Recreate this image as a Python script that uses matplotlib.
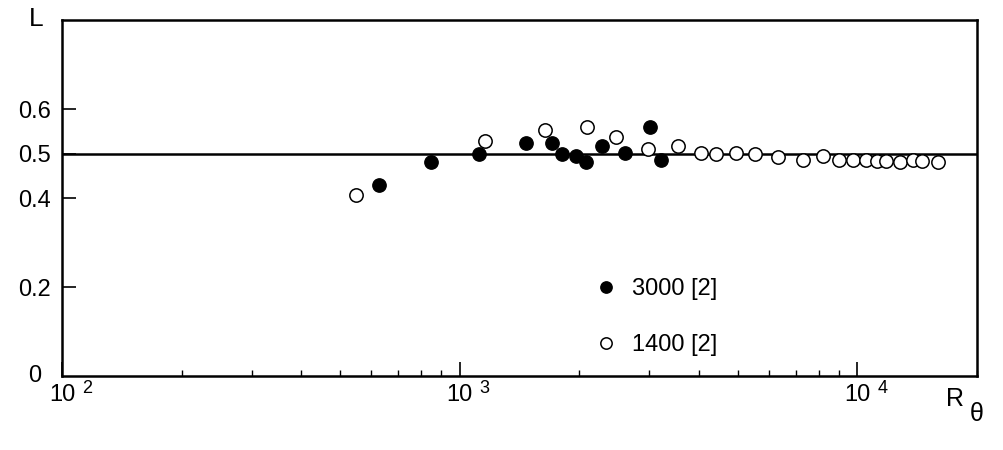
import matplotlib
matplotlib.use('Agg')
import matplotlib.pyplot as plt
import matplotlib.transforms as mtransforms
import numpy as np

plt.rcParams['font.family'] = ['Liberation Sans', 'DejaVu Sans']

# Serie 3000 [2] (circulos rellenos)
re_3000 = [627, 847, 1120, 1469, 1709, 1812, 1964, 2080, 2281, 2607, 3013, 3214]
L_3000 = [0.430, 0.480, 0.498, 0.523, 0.523, 0.498, 0.495, 0.480, 0.516, 0.502, 0.559, 0.486]

# Serie 1400 [2] (circulos vacios)
re_1400 = [550, 1159, 1641, 2094, 2478, 2980, 3540, 4055, 4419, 4962, 5540, 6324,
           7311, 8209, 9010, 9779, 10540, 11220, 11830, 12770, 13840, 14580, 16000]
L_1400 = [0.407, 0.529, 0.552, 0.559, 0.538, 0.509, 0.516, 0.502, 0.498, 0.502, 0.498, 0.493,
          0.486, 0.495, 0.486, 0.486, 0.486, 0.484, 0.484, 0.482, 0.486, 0.484, 0.480]

labels = ['3000 [2]', '1400 [2]']
x_ticks = [1e2, 1e3, 1e4]
x_exps = ['2', '3', '4']
y_ticks = [0.2, 0.4, 0.5, 0.6]
y_ticklabels = ['0.2', '0.4', '0.5', '0.6']
L_ref = 0.5

FS = 17

fig = plt.figure(figsize=(10.04, 4.5), dpi=100)
ax = fig.add_axes([62/1004, 1 - 376/450, 915/1004, 356/450])

ax.axhline(L_ref, color='black', lw=1.8, zorder=1)
ax.plot(re_3000, L_3000, 'o', ms=9.6, mfc='black', mec='black', mew=1.0,
        ls='none', label=labels[0], zorder=3)
ax.plot(re_1400, L_1400, 'o', ms=9.6, mfc='white', mec='black', mew=1.1,
        ls='none', label=labels[1], zorder=2)

ax.set_xscale('log')
ax.set_xlim(1e2, 2e4)
ax.set_ylim(0, 0.8)

for s in ax.spines.values():
    s.set_linewidth(1.8)

ax.set_xticks(x_ticks)
ax.set_xticklabels([])
ax.xaxis.set_minor_locator(matplotlib.ticker.LogLocator(base=10, subs=np.arange(2, 10)))
ax.xaxis.set_minor_formatter(matplotlib.ticker.NullFormatter())
ax.tick_params(axis='x', which='major', direction='in', length=10, width=1.2)
ax.tick_params(axis='x', which='minor', direction='in', length=4, width=1.0)

ax.set_yticks(y_ticks)
ax.set_yticklabels(y_ticklabels, fontsize=FS)
ax.tick_params(axis='y', which='major', direction='in', length=10, width=1.2, pad=8)

# etiquetas del eje x: "10" centrado y exponente separado
trans = mtransforms.blended_transform_factory(ax.transData, ax.transAxes)
for xt, ex in zip(x_ticks, x_exps):
    ax.text(xt, -0.023, '10', transform=trans, ha='center', va='top', fontsize=FS)
    t = ax.text(xt, -0.012, ex, transform=trans, ha='left', va='top', fontsize=13)
    t.set_transform(trans + mtransforms.ScaledTranslation(20/100, 0, fig.dpi_scale_trans))

fig.text(35/1004, 1 - 376/450, '0', ha='center', va='center', fontsize=FS)
fig.text(36/1004, 1 - 19/450, 'L', ha='center', va='center', fontsize=19)
fig.text(955/1004, 1 - 399/450, 'R', ha='center', va='center', fontsize=18)
fig.text(977/1004, 1 - 414/450, 'θ', ha='center', va='center', fontsize=18)

ax.legend(loc='upper left', bbox_to_anchor=(594/1004, 1 - 278/450),
          bbox_transform=fig.transFigure, frameon=False, fontsize=FS,
          markerscale=0.85, handlelength=1.0, handletextpad=0.6, labelspacing=1.45,
          borderaxespad=0, borderpad=0)

fig.savefig('out.png', dpi=100)
